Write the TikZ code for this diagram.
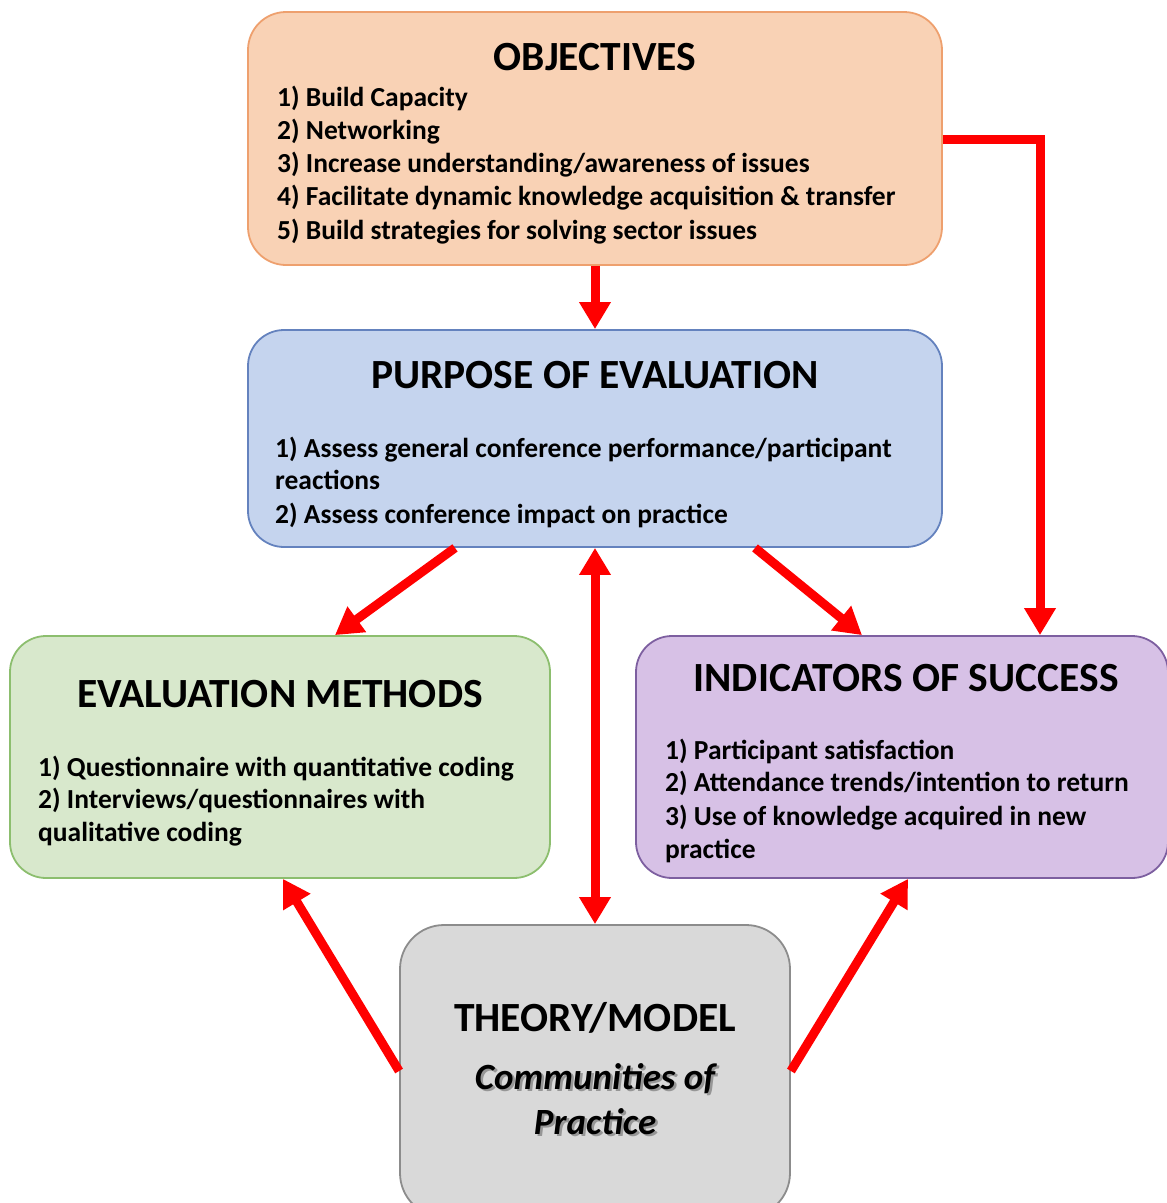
\documentclass[tikz,border=0pt]{standalone}
\usepackage{fontspec}
\setmainfont{Carlito}
\usetikzlibrary{arrows.meta}

\definecolor{objfill}{RGB}{249,210,181}
\definecolor{objline}{RGB}{238,160,110}
\definecolor{purfill}{RGB}{197,212,238}
\definecolor{purline}{RGB}{100,130,190}
\definecolor{evafill}{RGB}{216,232,204}
\definecolor{evaline}{RGB}{140,190,110}
\definecolor{indfill}{RGB}{215,193,230}
\definecolor{indline}{RGB}{125,95,160}
\definecolor{thefill}{RGB}{217,217,217}
\definecolor{theline}{RGB}{140,140,140}
\definecolor{arrred}{RGB}{255,0,0}
\definecolor{shadowgray}{RGB}{150,150,150}

% italic text with a soft drop shadow behind it
\newcommand{\shadowed}[1]{\rlap{\hspace{2.5pt}\raisebox{-2.5pt}{\textcolor{shadowgray}{#1}}}#1}

\tikzset{
  box/.style={rectangle, inner sep=0pt, line width=1.8pt},
  title/.style={font=\bfseries\fontsize{41.5}{48}\selectfont, anchor=base, inner sep=0pt},
  item/.style={font=\bfseries\fontsize{27.5}{33}\selectfont, anchor=base west, inner sep=0pt},
  italtext/.style={font=\bfseries\itshape\fontsize{37}{44}\selectfont, anchor=base, inner sep=0pt},
  flow/.style={arrred, line width=9pt, -{Triangle[width=30pt,length=27pt]}},
  biflow/.style={arrred, line width=9pt, {Triangle[width=30pt,length=27pt]}-{Triangle[width=30pt,length=27pt]}}
}

\begin{document}
\begin{tikzpicture}[x=1pt,y=-1pt]
\useasboundingbox (0,0) rectangle (1167,1203);

% boxes
\node[box, draw=objline, fill=objfill, rounded corners=38pt, minimum width=694pt, minimum height=253pt] (obj) at (595,138.5) {};
\node[box, draw=purline, fill=purfill, rounded corners=36pt, minimum width=694pt, minimum height=217pt] (pur) at (595,438.5) {};
\node[box, draw=evaline, fill=evafill, rounded corners=36pt, minimum width=540pt, minimum height=242pt] (eva) at (280,757) {};
\node[box, draw=indline, fill=indfill, rounded corners=36pt, minimum width=532pt, minimum height=242pt] (ind) at (902,757) {};
\node[box, draw=theline, fill=thefill, rounded corners=44pt, minimum width=390pt, minimum height=292pt] (the) at (595,1071) {};

% objectives
\node[title] (objt) at (595,70) {OBJECTIVES};
\node[item] (o1) at (277,106) {1) Build Capacity};
\node[item] (o2) at (277,139) {2) Networking};
\node[item] (o3) at (277,172) {3) Increase understanding/awareness of issues};
\node[item] (o4) at (277,205) {4) Facilitate dynamic knowledge acquisition \& transfer};
\node[item] (o5) at (277,239) {5) Build strategies for solving sector issues};

% purpose of evaluation
\node[title] (purt) at (595,388) {PURPOSE OF EVALUATION};
\node[item] (p1) at (275,457) {1) Assess general conference performance/participant};
\node[item] (p1b) at (275,489) {reactions};
\node[item] (p2) at (275,523) {2) Assess conference impact on practice};

% evaluation methods
\node[title] (evat) at (280,707) {EVALUATION METHODS};
\node[item] (e1) at (38,776) {1) Questionnaire with quantitative coding};
\node[item] (e2) at (38,808) {2) Interviews/questionnaires with};
\node[item] (e2b) at (38,841) {qualitative coding};

% indicators of success
\node[title] (indt) at (906,691) {INDICATORS OF SUCCESS};
\node[item] (i1) at (665,759) {1) Participant satisfaction};
\node[item] (i2) at (665,791) {2) Attendance trends/intention to return};
\node[item] (i3) at (665,825) {3) Use of knowledge acquired in new};
\node[item] (i3b) at (665,858) {practice};

% theory / model
\node[title] (thet) at (595,1031) {THEORY/MODEL};
\node[italtext] (c1) at (595,1089) {\shadowed{Communities of}};
\node[italtext] (c2) at (595,1134) {\shadowed{Practice}};

% connectors
\draw[flow] (obj.south) -- (pur.north);
\draw[flow] ([yshift=-0.5pt]obj.east) -| ([xshift=138pt]ind.north);
\draw[flow] ([xshift=-140pt]pur.south) -- ([xshift=55pt]eva.north);
\draw[flow] ([xshift=160pt]pur.south) -- ([xshift=-40pt]ind.north);
\draw[biflow] (pur.south) -- (the.north);
\draw[flow] (the.west) -- ([xshift=3pt]eva.south);
\draw[flow] (the.east) -- ([xshift=6pt]ind.south);
\end{tikzpicture}
\end{document}
